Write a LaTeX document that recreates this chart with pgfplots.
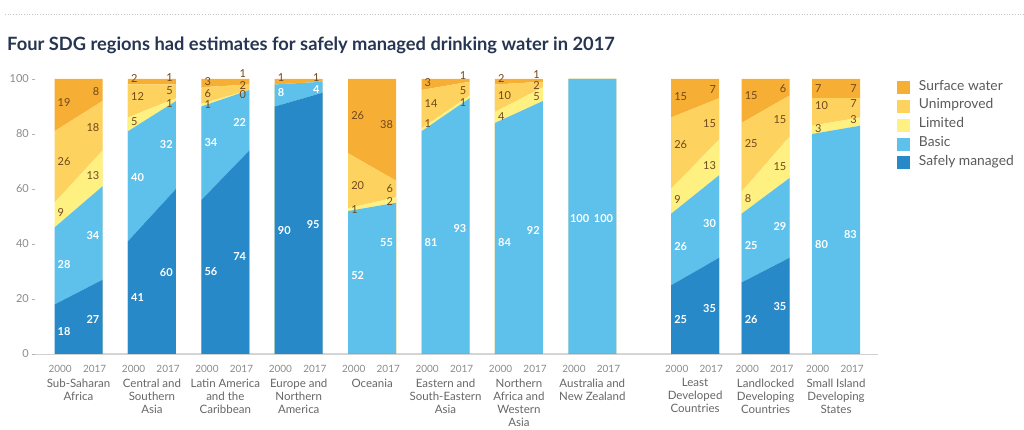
\documentclass[border=0pt]{standalone}
\usepackage{fontspec}
\setmainfont{Lato}
\usepackage{pgfplots}
\usepackage{pgfplotstable}
\pgfplotsset{compat=1.18}
\definecolor{cSM}{HTML}{2789C8}
\definecolor{cBA}{HTML}{5DC1EC}
\definecolor{cLI}{HTML}{FFF082}
\definecolor{cUN}{HTML}{FDD25E}
\definecolor{cSU}{HTML}{F7AE34}
\definecolor{labdark}{HTML}{70481C}
\definecolor{titlec}{HTML}{263552}
\definecolor{legtext}{HTML}{5A5A5A}
\definecolor{grouptext}{HTML}{666666}
\definecolor{ticktext}{HTML}{8A8A8A}

% x: left edge = 2000, right edge = 2017 of each group; zero rows separate groups
\pgfplotstableread{
x sm ba li un su
-0.327 18 28 9 26 19
0.327 27 34 13 18 8
0.327 0 0 0 0 0
0.673 0 0 0 0 0
0.673 41 40 5 12 2
1.327 60 32 1 5 2
1.327 0 0 0 0 0
1.673 0 0 0 0 0
1.673 56 34 1 6 3
2.327 74 22 0 2 2
2.327 0 0 0 0 0
2.673 0 0 0 0 0
2.673 90 8 0 0 2
3.327 95 4 0 0 1
3.327 0 0 0 0 0
3.673 0 0 0 0 0
3.673 0 52 1 20 27
4.327 0 55 2 6 37
4.327 0 0 0 0 0
4.673 0 0 0 0 0
4.673 0 81 1 14 4
5.327 0 93 1 5 1
5.327 0 0 0 0 0
5.673 0 0 0 0 0
5.673 0 84 4 10 2
6.327 0 92 5 2 1
6.327 0 0 0 0 0
6.673 0 0 0 0 0
6.673 0 100 0 0 0
7.327 0 100 0 0 0
7.327 0 0 0 0 0
8.073 0 0 0 0 0
8.073 25 26 9 26 14
8.727 35 30 13 15 7
8.727 0 0 0 0 0
9.033 0 0 0 0 0
9.033 26 25 8 25 16
9.687 35 29 15 15 6
9.687 0 0 0 0 0
9.993 0 0 0 0 0
9.993 0 80 3 10 7
10.647 0 83 3 7 7
}\datatable

\pgfplotsset{
  common/.style={
    at={(35pt,76pt)}, anchor=south west,
    scale only axis, width=843pt, height=275pt,
    xmin=-0.593, xmax=10.892, ymin=0, ymax=100,
    clip=false,
  },
  lab/.style={draw=none, mark=none, nodes near coords, point meta=explicit symbolic},
}
\newcommand{\labfont}{\fontsize{11}{13}\selectfont}

\begin{document}
\begin{tikzpicture}
\draw[gray!45, dotted, line width=0.7pt] (5pt,416pt) -- (1024pt,416pt);
\node[anchor=base west, inner sep=0pt, font=\fontsize{18.3}{22}\selectfont\bfseries, text=titlec] at (7pt,379.3pt) {Four SDG regions had estimates for safely managed drinking water in 2017};

\begin{axis}[common,
  stack plots=y,
  axis x line*=bottom, axis y line*=left,
  axis line style={-},
  x axis line style={draw=gray!35, line width=0.8pt},
  y axis line style={draw=none},
  ytick={0,20,...,100},
  tick align=outside, major tick length=3pt,
  ytick style={gray!60, line width=0.6pt},
  yticklabel style={font=\fontsize{11}{13}\selectfont, text=ticktext, inner sep=0pt, xshift=-3pt},
  /pgf/number format/assume math mode=true,
  xtick={-0.25,0.22,0.75,1.22,1.75,2.22,2.75,3.22,3.75,4.22,4.75,5.22,5.75,6.22,6.75,7.22,8.15,8.62,9.11,9.58,10.07,10.54},
  xticklabels={2000,2017,2000,2017,2000,2017,2000,2017,2000,2017,2000,2017,2000,2017,2000,2017,2000,2017,2000,2017,2000,2017},
  xtick style={draw=none},
  xticklabel style={font=\fontsize{10}{12}\selectfont, text=ticktext, anchor=center, inner sep=0pt, yshift=-11.5pt},
  legend style={at={(1.0225,0.998)}, anchor=north west, draw=none, fill=none,
    inner sep=0pt, outer sep=0pt, row sep=4.6pt,
    font=\fontsize{13.8}{15}\selectfont, text=legtext,
    nodes={inner sep=0pt},
    /tikz/every odd column/.append style={column sep=9pt}},
  legend cell align=left,
  reverse legend,
  legend image code/.code={\fill[#1] (0pt,-8.3pt) rectangle (13pt,4.7pt);},
]
\addplot[fill=cSM, draw=none] table[x=x, y=sm] {\datatable} \closedcycle;
\addlegendentry{Safely managed\strut}
\addplot[fill=cBA, draw=none] table[x=x, y=ba] {\datatable} \closedcycle;
\addlegendentry{Basic\strut}
\addplot[fill=cLI, draw=none] table[x=x, y=li] {\datatable} \closedcycle;
\addlegendentry{Limited\strut}
\addplot[fill=cUN, draw=none] table[x=x, y=un] {\datatable} \closedcycle;
\addlegendentry{Unimproved\strut}
\addplot[fill=cSU, draw=none] table[x=x, y=su] {\datatable} \closedcycle;
\addlegendentry{Surface water\strut}

\tikzset{grp/.style={anchor=north, align=center, inner sep=0pt, yshift=-24.5pt, font=\fontsize{11.5}{13}\selectfont, text=grouptext}}
\node[grp] at (axis cs:0,0) {Sub-Saharan\\Africa};
\node[grp] at (axis cs:1,0) {Central and\\Southern\\Asia};
\node[grp] at (axis cs:2,0) {Latin America\\and the\\Caribbean};
\node[grp] at (axis cs:3,0) {Europe and\\Northern\\America};
\node[grp] at (axis cs:4,0) {Oceania};
\node[grp] at (axis cs:5,0) {Eastern and\\South-Eastern\\Asia};
\node[grp] at (axis cs:6,0) {Northern\\Africa and\\Western\\Asia};
\node[grp] at (axis cs:7,0) {Australia and\\New Zealand};
\node[grp] at (axis cs:8.4,0) {Least\\Developed\\Countries};
\node[grp] at (axis cs:9.36,0) {Landlocked\\Developing\\Countries};
\node[grp] at (axis cs:10.32,0) {Small Island\\Developing\\States};
\end{axis}

\begin{axis}[common, hide axis]
% dark labels, 2000 side (left aligned)
\addplot[lab, nodes near coords style={anchor=west, inner sep=0pt, font=\labfont, text=labdark}] coordinates {
(-0.286,91.5)[19] (-0.286,70)[26] (-0.286,51.5)[9]
(0.714,100)[2] (0.714,93.5)[12] (0.714,84.5)[5]
(1.714,99)[3] (1.714,94.7)[6] (1.714,90.6)[1]
(2.714,100.6)[1]
(3.714,86.8)[26] (3.714,61.2)[20] (3.714,52.7)[1]
(4.714,98.7)[3] (4.714,91.1)[14] (4.714,83.9)[1]
(5.714,100)[2] (5.714,93.8)[10] (5.714,86.3)[4]
(8.114,93.6)[15] (8.114,76)[26] (8.114,56.2)[9]
(9.074,93.8)[15] (9.074,76.6)[25] (9.074,56.6)[8]
(10.034,96.6)[7] (10.034,90.2)[10] (10.034,82)[3]
};
% dark labels, 2017 side (right aligned)
\addplot[lab, nodes near coords style={anchor=east, inner sep=0pt, font=\labfont, text=labdark}] coordinates {
(0.286,95.5)[8] (0.286,82.5)[18] (0.286,65)[13]
(1.286,100.7)[1] (1.286,95.6)[5] (1.286,91)[1]
(2.286,101.8)[1] (2.286,97.6)[2] (2.286,94.2)[0]
(3.286,100.6)[1]
(4.286,83.3)[38] (4.286,60.2)[6] (4.286,55.6)[2]
(5.286,101.1)[1] (5.286,95.8)[5] (5.286,91.5)[1]
(6.286,101.5)[1] (6.286,97.6)[2] (6.286,93.6)[5]
(8.686,96.2)[7] (8.686,83.6)[15] (8.686,68.7)[13]
(9.646,96.6)[6] (9.646,85.1)[15] (9.646,68.1)[15]
(10.606,96.6)[7] (10.606,91.1)[7] (10.606,85.1)[3]
};
% white labels, 2000 side
\addplot[lab, nodes near coords style={anchor=west, inner sep=0pt, font=\labfont\bfseries, text=white}] coordinates {
(-0.286,8.1)[18] (-0.286,32.6)[28]
(0.714,20.6)[41] (0.714,64.2)[40]
(1.714,29.8)[56] (1.714,76.8)[34]
(2.714,44.8)[90] (2.714,95)[8]
(3.714,28.7)[52]
(4.714,40.6)[81]
(5.714,40.6)[84]
(6.694,49.3)[100]
(8.114,12.4)[25] (8.114,39)[26]
(9.074,12.6)[26] (9.074,39.6)[25]
(10.034,39.9)[80]
};
% white labels, 2017 side
\addplot[lab, nodes near coords style={anchor=east, inner sep=0pt, font=\labfont\bfseries, text=white}] coordinates {
(0.286,12.7)[27] (0.286,43)[34]
(1.286,29.7)[60] (1.286,76)[32]
(2.286,35.5)[74] (2.286,84.2)[22]
(3.286,46.9)[95] (3.286,96.2)[4]
(4.286,40.5)[55]
(5.286,45.6)[93]
(6.286,44.8)[92]
(7.286,49.3)[100]
(8.686,16.6)[35] (8.686,47.3)[30]
(9.646,17.2)[35] (9.646,46.5)[29]
(10.606,43.3)[83]
};
\end{axis}
\pgfresetboundingbox
\path (0pt,0pt) rectangle (1024pt,430pt);
\end{tikzpicture}
\end{document}
